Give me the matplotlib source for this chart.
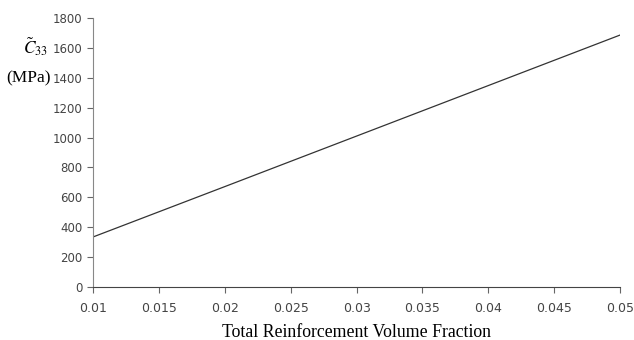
import numpy as np
import matplotlib.pyplot as plt

# données
vf = [0.01, 0.02, 0.03, 0.04, 0.05]
c33 = [335, 672, 1010, 1348, 1686]
xticks = [0.01, 0.015, 0.02, 0.025, 0.03, 0.035, 0.04, 0.045, 0.05]
xtick_labels = ["0.01", "0.015", "0.02", "0.025", "0.03", "0.035", "0.04", "0.045", "0.05"]
yticks = np.arange(0, 1801, 200)

fig = plt.figure(figsize=(6.34, 3.4), dpi=100)
ax = fig.add_axes([0.147, 0.156, 0.831, 0.791])

ax.plot(vf, c33, color="#333333", lw=0.9)

ax.set_xlim(0.01, 0.05)
ax.set_ylim(0, 1800)
ax.set_xticks(xticks)
ax.set_xticklabels(xtick_labels)
ax.set_yticks(yticks)

for s in ["top", "right"]:
    ax.spines[s].set_visible(False)
ax.spines["left"].set_color("#888888")
ax.spines["bottom"].set_color("#444444")
ax.tick_params(axis="both", direction="out", length=4, width=0.8,
               labelsize=9, labelcolor="#444444", color="#666666")
ax.tick_params(axis="x", pad=7)
ax.tick_params(axis="y", labelsize=8.5)

ax.set_xlabel("Total Reinforcement Volume Fraction", family="Liberation Serif",
              fontsize=12.8, labelpad=6)

fig.text(0.056, 0.862, r"$\tilde{C}_{33}$", fontsize=12.5, ha="center", va="center",
         math_fontfamily="stix")
fig.text(0.045, 0.77, "(MPa)", fontsize=12.5, ha="center", va="center",
         family="Liberation Serif")

fig.savefig("out.png", dpi=100)
